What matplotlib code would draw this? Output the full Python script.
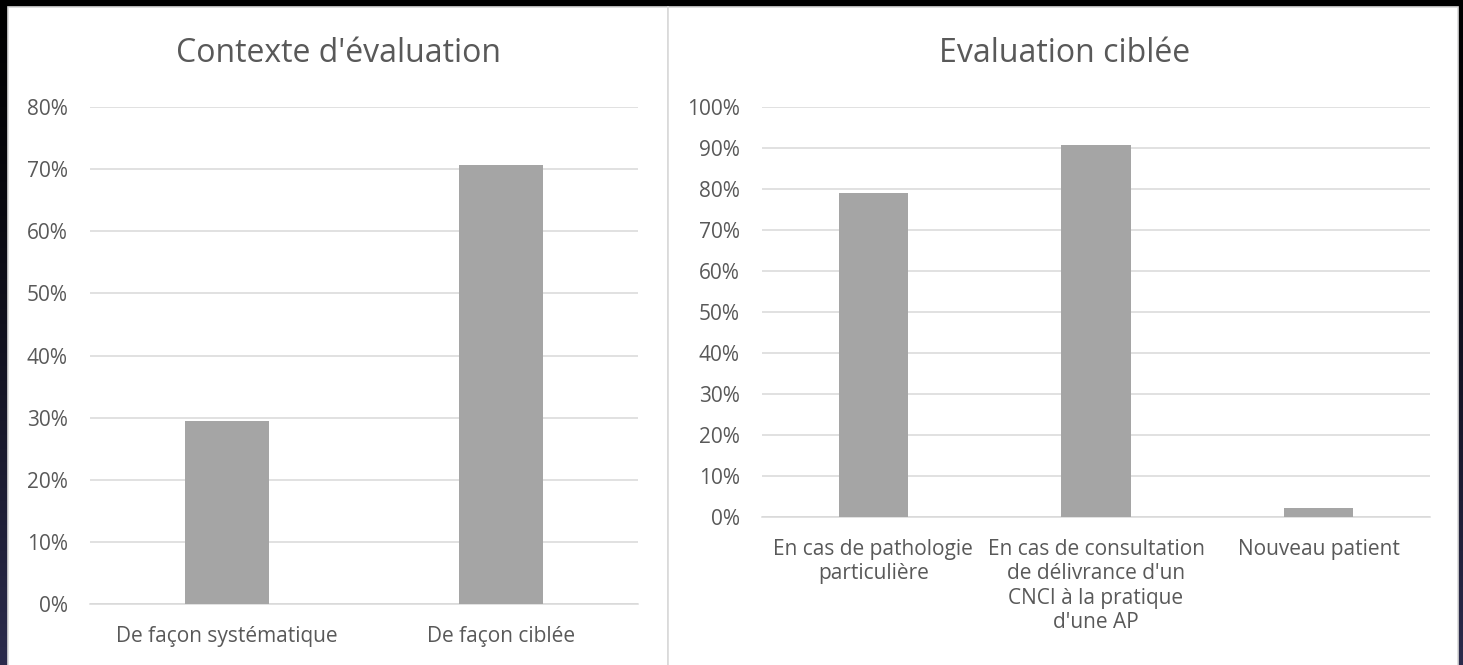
import numpy as np
import matplotlib
matplotlib.use("Agg")
import matplotlib.pyplot as plt
from matplotlib.patches import Rectangle
from matplotlib.ticker import PercentFormatter

# survey results (share of respondents)
context_labels = ["De façon systématique", "De façon ciblée"]
context_values = [0.294, 0.706]

targeted_labels = [
    "En cas de pathologie\nparticulière",
    "En cas de consultation\nde délivrance d'un\nCNCI à la pratique\nd'une AP",
    "Nouveau patient",
]
targeted_values = [0.791, 0.907, 0.023]

context_ticks = np.arange(0, 0.81, 0.1)
targeted_ticks = np.arange(0, 1.01, 0.1)

TEXT = "#595959"
GRID = "#d9d9d9"
BAR = "#a5a5a5"
W, H = 1463, 665

plt.rcParams["font.family"] = ["Open Sans", "DejaVu Sans"]

fig = plt.figure(figsize=(W / 100, H / 100), dpi=100)

# dark backdrop, black at the top fading to navy
bg = fig.add_axes([0, 0, 1, 1], zorder=-10)
grad = np.linspace(0, 1, 256).reshape(-1, 1) ** 1.3
top = np.array([0.0, 0.0, 0.0])
bottom = np.array([0.17, 0.17, 0.30])
img = top + grad[..., None] * (bottom - top)
bg.imshow(img, aspect="auto", extent=[0, 1, 0, 1], origin="upper")
bg.set_axis_off()


def px_rect(x0, y0, x1, y1):
    return [x0 / W, 1 - y1 / H, (x1 - x0) / W, (y1 - y0) / H]


# the two white chart panels
for x0, x1 in [(8, 668), (668, 1458)]:
    l, b, w, h = px_rect(x0, 7, x1, H + 5)
    bg.add_patch(Rectangle((l, b), w, h, transform=fig.transFigure,
                           facecolor="white", edgecolor=GRID, lw=1.2, zorder=2))


def bar_panel(rect, labels, values, ticks, title, title_xy):
    ax = fig.add_axes(px_rect(*rect))
    x = np.arange(len(labels))
    ax.bar(x, values, width=0.31, color=BAR, zorder=3)
    ax.set_xlim(-0.5, len(labels) - 0.5)
    ax.set_ylim(0, ticks[-1])
    ax.set_yticks(ticks)
    ax.yaxis.set_major_formatter(PercentFormatter(1.0, decimals=0))
    ax.set_xticks(x)
    ax.set_xticklabels(labels, linespacing=1.2)
    ax.grid(axis="y", color=GRID, lw=1.1, zorder=0)
    ax.set_axisbelow(True)
    for s in ["top", "right", "left"]:
        ax.spines[s].set_visible(False)
    ax.spines["bottom"].set_color(GRID)
    ax.spines["bottom"].set_linewidth(1.1)
    ax.tick_params(axis="both", length=0, colors=TEXT, labelsize=15)
    ax.tick_params(axis="y", pad=16)
    ax.tick_params(axis="x", pad=16)
    ax.set_facecolor("none")
    fig.text(title_xy[0] / W, 1 - title_xy[1] / H, title, ha="center",
             va="center", fontsize=23, color=TEXT)
    return ax


bar_panel((90, 107, 638, 604), context_labels, context_values, context_ticks,
          "Contexte d'évaluation", (338, 53))
bar_panel((762, 107, 1430, 517), targeted_labels, targeted_values,
          targeted_ticks, "Evaluation ciblée", (1065, 53))

fig.savefig("out.png", dpi=100)
